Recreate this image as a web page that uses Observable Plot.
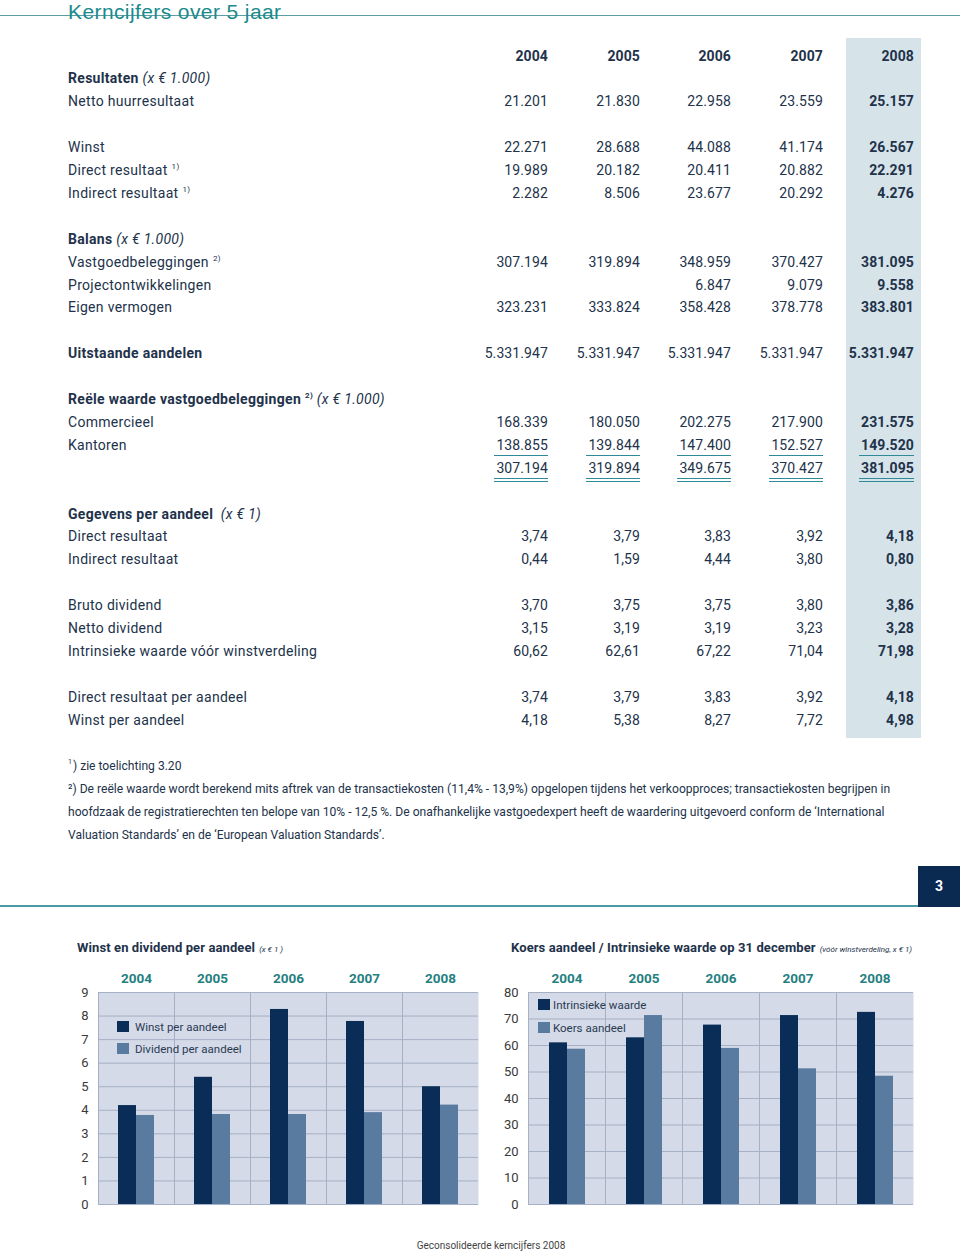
<!DOCTYPE html>
<html>
<head>
<meta charset="utf-8">
<script src="https://cdn.jsdelivr.net/npm/d3@7"></script>
<script src="https://cdn.jsdelivr.net/npm/@observablehq/plot@0.6"></script>
<style>
  html, body { margin: 0; padding: 0; background: #fff; }
  #page { position: relative; width: 960px; height: 1258px; overflow: hidden; font-family: Roboto, "Noto Sans", sans-serif; color: #22324a; }
  .abs { position: absolute; }
  .row { position: absolute; left: 0; width: 960px; height: 23px; line-height: 23px; font-size: 14px; white-space: nowrap; letter-spacing: 0.3px; }
  .row .lbl { position: absolute; left: 68px; }
  .row .num { position: absolute; text-align: right; letter-spacing: 0.1px; }
  .bold { font-weight: 700; }
  .unit { font-style: italic; font-weight: 400; }
  sup { font-size: 8px; line-height: 0; vertical-align: 6px; margin-left: 4px; }
  .ul1 { border-bottom: 1.5px solid #2e8a98; padding-left: 2px; line-height: 19px; display: inline-block; }
  .ul2 { border-bottom: 4px double #2e8a98; padding-left: 2px; line-height: 19px; display: inline-block; }
  .foot { position: absolute; left: 68px; font-size: 12.1px; height: 23px; line-height: 23px; white-space: nowrap; }
  .chart-title { position: absolute; font-size: 13px; font-weight: 700; white-space: nowrap; line-height: 16px; letter-spacing: 0.1px; }
  .chart-title .small { font-size: 8px; font-style: italic; font-weight: 400; margin-left: 4px; letter-spacing: 0; }
  .legend { position: absolute; font-size: 11.5px; color: #2a3a55; white-space: nowrap; line-height: 14px; }
  .legend .sw { display: inline-block; width: 12px; height: 11px; vertical-align: -1px; margin-right: 6px; }
  .plotwrap { position: absolute; }
  .plotwrap [aria-label^="fx-axis"] text { fill: #25807f; font-weight: 700; font-size: 13.5px; }
  .plotwrap [aria-label^="y-axis"] text { fill: #3a3a3a; font-size: 13px; }
</style>
</head>
<body>
<div id="page"></div>
<script>
// ---------- DATA ----------
const years = ["2004", "2005", "2006", "2007", "2008"];

// Table values (as printed)
const nettoHuurresultaat = ["21.201", "21.830", "22.958", "23.559", "25.157"];
const winst = ["22.271", "28.688", "44.088", "41.174", "26.567"];
const directResultaat = ["19.989", "20.182", "20.411", "20.882", "22.291"];
const indirectResultaat = ["2.282", "8.506", "23.677", "20.292", "4.276"];
const vastgoedbeleggingen = ["307.194", "319.894", "348.959", "370.427", "381.095"];
const projectontwikkelingen = ["", "", "6.847", "9.079", "9.558"];
const eigenVermogen = ["323.231", "333.824", "358.428", "378.778", "383.801"];
const uitstaandeAandelen = ["5.331.947", "5.331.947", "5.331.947", "5.331.947", "5.331.947"];
const commercieel = ["168.339", "180.050", "202.275", "217.900", "231.575"];
const kantoren = ["138.855", "139.844", "147.400", "152.527", "149.520"];
const reeleTotaal = ["307.194", "319.894", "349.675", "370.427", "381.095"];
const directPerAandeel = ["3,74", "3,79", "3,83", "3,92", "4,18"];
const indirectPerAandeel = ["0,44", "1,59", "4,44", "3,80", "0,80"];
const brutoDividend = ["3,70", "3,75", "3,75", "3,80", "3,86"];
const nettoDividend = ["3,15", "3,19", "3,19", "3,23", "3,28"];
const intrinsiekeWaarde = ["60,62", "62,61", "67,22", "71,04", "71,98"];
const directResultaatPerAandeel = ["3,74", "3,79", "3,83", "3,92", "4,18"];
const winstPerAandeelTxt = ["4,18", "5,38", "8,27", "7,72", "4,98"];

// Chart 1: Winst en dividend per aandeel
const chart1Series = ["Winst per aandeel", "Dividend per aandeel"];
const chart1Winst = [4.20, 5.40, 8.28, 7.77, 5.00];
const chart1Dividend = [3.78, 3.82, 3.82, 3.90, 4.22];
const chart1Ticks = [0, 1, 2, 3, 4, 5, 6, 7, 8, 9];

// Chart 2: Koers aandeel / Intrinsieke waarde
const chart2Series = ["Intrinsieke waarde", "Koers aandeel"];
const chart2Intrinsiek = [61.0, 62.9, 67.7, 71.3, 72.5];
const chart2Koers = [58.6, 71.3, 58.9, 51.2, 48.4];
const chart2Ticks = [0, 10, 20, 30, 40, 50, 60, 70, 80];

// ---------- STYLE ----------
const DARK = "#0a2d57", LIGHT = "#5a7ba0", BG = "#d4dae7", GRID = "#a6b0c4";
const colEdges = [548, 640, 731, 823, 914];
const rowY = i => 56 + i * 22.9;

const page = document.getElementById("page");
function el(tag, cls, style, html) {
  const e = document.createElement(tag);
  if (cls) e.className = cls;
  if (style) e.setAttribute("style", style);
  if (html != null) e.innerHTML = html;
  page.appendChild(e);
  return e;
}

// Title + rule
el("div", "abs", "left:0;top:14.5px;width:960px;height:1.5px;background:#5b9ea3;");
el("div", "abs", "left:68px;top:2.5px;font-family:'Liberation Sans',Arial,sans-serif;font-size:21px;line-height:18px;color:#1a8a8e;white-space:nowrap;letter-spacing:0.4px;", "Kerncijfers over 5 jaar");

// Highlight band for 2008
el("div", "abs", "left:846px;top:38px;width:75px;height:700px;background:#d6e4ea;");

// Table rows
const rows = [
  {i: 0, label: "", values: years, boldAll: true},
  {i: 1, label: '<span class="bold">Resultaten</span> <span class="unit">(x € 1.000)</span>'},
  {i: 2, label: "Netto huurresultaat", values: nettoHuurresultaat},
  {i: 4, label: "Winst", values: winst},
  {i: 5, label: "Direct resultaat<sup>1)</sup>", values: directResultaat},
  {i: 6, label: "Indirect resultaat<sup>1)</sup>", values: indirectResultaat},
  {i: 8, label: '<span class="bold">Balans</span> <span class="unit">(x € 1.000)</span>'},
  {i: 9, label: "Vastgoedbeleggingen<sup>2)</sup>", values: vastgoedbeleggingen},
  {i: 10, label: "Projectontwikkelingen", values: projectontwikkelingen},
  {i: 11, label: "Eigen vermogen", values: eigenVermogen},
  {i: 13, label: '<span class="bold">Uitstaande aandelen</span>', values: uitstaandeAandelen},
  {i: 15, label: '<span class="bold">Reële waarde vastgoedbeleggingen<sup>2)</sup></span> <span class="unit">(x € 1.000)</span>'},
  {i: 16, label: "Commercieel", values: commercieel},
  {i: 17, label: "Kantoren", values: kantoren, ul: "ul1"},
  {i: 18, label: "", values: reeleTotaal, ul: "ul2"},
  {i: 20, label: '<span class="bold">Gegevens per aandeel</span>&nbsp; <span class="unit">(x € 1)</span>'},
  {i: 21, label: "Direct resultaat", values: directPerAandeel},
  {i: 22, label: "Indirect resultaat", values: indirectPerAandeel},
  {i: 24, label: "Bruto dividend", values: brutoDividend},
  {i: 25, label: "Netto dividend", values: nettoDividend},
  {i: 26, label: "Intrinsieke waarde vóór winstverdeling", values: intrinsiekeWaarde},
  {i: 28, label: "Direct resultaat per aandeel", values: directResultaatPerAandeel},
  {i: 29, label: "Winst per aandeel", values: winstPerAandeelTxt}
];
for (const r of rows) {
  const row = el("div", "row", `top:${rowY(r.i) - 11.5}px;`);
  const lbl = document.createElement("span");
  lbl.className = "lbl";
  lbl.innerHTML = r.label;
  row.appendChild(lbl);
  if (r.values) {
    r.values.forEach((v, k) => {
      if (!v) return;
      const s = document.createElement("span");
      s.className = "num" + ((r.boldAll || k === 4) ? " bold" : "");
      s.style.right = (960 - colEdges[k]) + "px";
      s.innerHTML = r.ul ? `<span class="${r.ul}">${v}</span>` : v;
      row.appendChild(s);
    });
  }
}

// Footnotes
el("div", "foot", "top:754.5px;", "<sup style='margin:0 1px 0 0;font-size:7px'>1</sup>) zie toelichting 3.20");
el("div", "foot", "top:777.5px;", "²) De reële waarde wordt berekend mits aftrek van de transactiekosten (11,4% - 13,9%) opgelopen tijdens het verkoopproces; transactiekosten begrijpen in");
el("div", "foot", "top:800.5px;", "hoofdzaak de registratierechten ten belope van 10% - 12,5 %. De onafhankelijke vastgoedexpert heeft de waardering uitgevoerd conform de ‘International");
el("div", "foot", "top:823.5px;", "Valuation Standards’ en de ‘European Valuation Standards’.");

// Page number block + rule
el("div", "abs", "left:0;top:905px;width:918px;height:1.5px;background:#4a9aa5;");
el("div", "abs", "left:918px;top:866px;width:42px;height:41px;background:#0a2a52;color:#fff;font-weight:700;font-size:14px;line-height:41px;text-align:center;", "3");

// Chart titles
el("div", "chart-title", "left:77px;top:940px;", 'Winst en dividend per aandeel<span class="small">(x € 1 )</span>');
el("div", "chart-title", "left:511px;top:940px;", 'Koers aandeel / Intrinsieke waarde op 31 december<span class="small">(vóór winstverdeling, x € 1)</span>');

// ---------- CHARTS ----------
function longData(series, a, b) {
  const out = [];
  years.forEach((y, k) => {
    out.push({year: y, series: series[0], value: a[k]});
    out.push({year: y, series: series[1], value: b[k]});
  });
  return out;
}

function barChart({data, series, yMax, ticks, width, marginRight, paddingOuter}) {
  return Plot.plot({
    width,
    height: 260,
    marginLeft: 38,
    marginRight,
    marginTop: 32,
    marginBottom: 16,
    style: {fontFamily: "Roboto, sans-serif", fontSize: "13px", background: "transparent", overflow: "visible", color: "#3a3a3a"},
    facet: {data, x: "year"},
    fx: {domain: years, padding: 0, axis: "top", label: null, tickSize: 0, tickPadding: 10},
    x: {domain: series, axis: null, paddingInner: 0, paddingOuter},
    y: {domain: [0, yMax], ticks, tickSize: 0, tickPadding: 10, label: null, tickFormat: d => String(d)},
    color: {domain: series, range: [DARK, LIGHT]},
    marks: [
      Plot.frame({fill: BG, stroke: null}),
      Plot.ruleY(ticks, {stroke: GRID, strokeWidth: 1, facet: null}),
      Plot.frame({anchor: "left", stroke: GRID, strokeWidth: 1}),
      Plot.barY(data, {x: "series", y: "value", fill: "series"})
    ]
  });
}

const w1 = el("div", "plotwrap", "left:60px;top:960px;");
w1.appendChild(barChart({
  data: longData(chart1Series, chart1Winst, chart1Dividend),
  series: chart1Series, yMax: 9, ticks: chart1Ticks,
  width: 430, marginRight: 12, paddingOuter: 76 / 36 - 1
}));

const w2 = el("div", "plotwrap", "left:490px;top:960px;");
w2.appendChild(barChart({
  data: longData(chart2Series, chart2Intrinsiek, chart2Koers),
  series: chart2Series, yMax: 80, ticks: chart2Ticks,
  width: 440, marginRight: 17, paddingOuter: 77 / 37 - 1
}));

// Legends (inside plots)
el("div", "legend", "left:117px;top:1020px;", `<span class="sw" style="background:${DARK}"></span>${chart1Series[0]}`);
el("div", "legend", "left:117px;top:1042px;", `<span class="sw" style="background:${LIGHT}"></span>${chart1Series[1]}`);
el("div", "legend", "left:538px;top:998px;", `<span class="sw" style="background:${DARK};margin-right:3px"></span>${chart2Series[0]}`);
el("div", "legend", "left:538px;top:1021px;", `<span class="sw" style="background:${LIGHT};margin-right:3px"></span>${chart2Series[1]}`);

// Footer
el("div", "abs", "left:0;width:982px;top:1240px;text-align:center;font-size:10px;color:#444;line-height:12px;", "Geconsolideerde kerncijfers 2008");
</script>
</body>
</html>
